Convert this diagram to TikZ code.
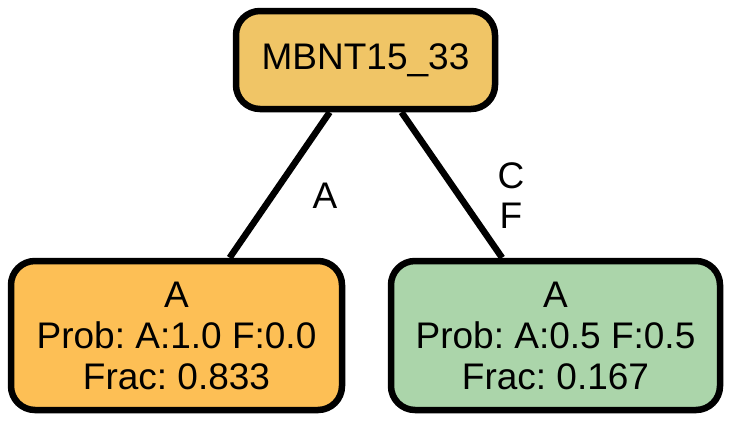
\documentclass[tikz,border=0pt]{standalone}
\usepackage{fontspec}
\setmainfont{Liberation Sans}
\frenchspacing
\definecolor{topfill}{HTML}{F0C566}
\definecolor{leftfill}{HTML}{FDBF55}
\definecolor{rightfill}{HTML}{ABD5AA}
\begin{document}
\begin{tikzpicture}[x=1pt,y=-1pt,
  treenode/.style={draw=black, line width=6.5pt, rounded corners=24pt, inner sep=0pt, align=center,
    font=\fontsize{37}{41}\selectfont\frenchspacing},
  edgeline/.style={line width=6.5pt, draw=black},
  edgelabel/.style={inner sep=0pt, align=center, font=\fontsize{37}{40}\selectfont}]
\useasboundingbox (0,0) rectangle (733,421);
\node[treenode, fill=topfill, minimum width=259pt, minimum height=98pt] (top) at (365.5,60) {MBNT15\_33};
\node[treenode, fill=leftfill, minimum width=331pt, minimum height=149pt] (left) at (176.5,335.5) {A\\Prob: A:1.0 F:0.0\\Frac: 0.833};
\node[treenode, fill=rightfill, minimum width=329pt, minimum height=149pt] (right) at (555.5,335.5) {A\\Prob: A:0.5 F:0.5\\Frac: 0.167};
\draw[edgeline] (top) -- (left);
\draw[edgeline] (top) -- (right);
\node[edgelabel] (la) at (325,196) {A};
\node[edgelabel] (lcf) at (511,196) {C\\F};
\end{tikzpicture}
\end{document}
